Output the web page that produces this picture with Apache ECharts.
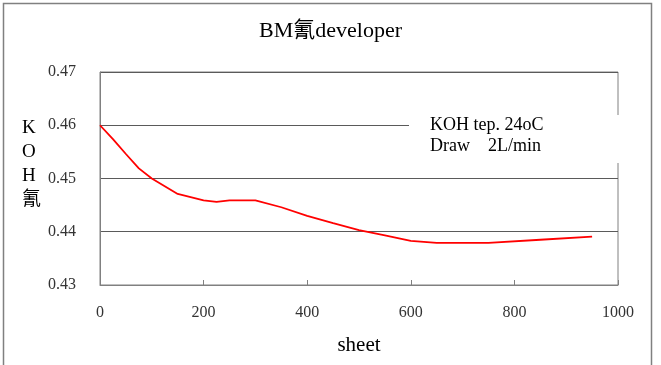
<!DOCTYPE html>
<html>
<head>
<meta charset="utf-8">
<script src="https://cdn.jsdelivr.net/npm/echarts@6/dist/echarts.min.js"></script>
<style>html,body{margin:0;padding:0;background:#fff}#c{width:661px;height:365px}</style>
</head>
<body>
<div id="c"></div>
<script>
const sheets = [0, 25, 50, 75, 100, 150, 200, 225, 250, 300, 350, 400, 450, 500, 550, 600, 650, 750, 850, 950];
const koh = [0.4600, 0.4574, 0.4546, 0.4519, 0.4500, 0.4471, 0.4459, 0.4456, 0.4459, 0.4459, 0.4446, 0.4430, 0.4416, 0.4403, 0.4393, 0.4383, 0.4379, 0.4379, 0.4385, 0.4391];
const titleText = 'BM氰developer';
const xName = 'sheet';
const yName = 'K\nO\nH\n氰';
const noteLines = ['KOH tep. 24oC', 'Draw    2L/min'];

const serif = '"Liberation Serif", "Times New Roman", "Noto Sans CJK TC", serif';
const chart = echarts.init(document.getElementById('c'));
chart.setOption({
  animation: false,
  backgroundColor: '#fff',
  title: {
    text: titleText, left: 'center', top: 15,
    textStyle: { fontFamily: serif, fontSize: 22, fontWeight: 'normal', color: '#000' }
  },
  grid: { left: 100, right: 43, top: 72, bottom: 80, show: true, borderColor: '#808080', borderWidth: 1,
    containLabel: false, outerBoundsMode: 'none' },
  xAxis: {
    type: 'value', min: 0, max: 1000, interval: 200,
    name: xName, nameLocation: 'middle', nameGap: 50,
    nameTextStyle: { fontFamily: serif, fontSize: 21, color: '#000' },
    axisLine: { show: true, lineStyle: { color: '#808080', width: 1 } },
    axisTick: { show: true, inside: true, length: 5, lineStyle: { color: '#808080' } },
    axisLabel: { fontFamily: serif, fontSize: 16, color: '#333', margin: 20,
      formatter: v => String(v) },
    splitLine: { show: false }
  },
  yAxis: {
    type: 'value', min: 0.43, max: 0.47, interval: 0.01,
    axisLine: { show: true, lineStyle: { color: '#808080', width: 1 } },
    axisTick: { show: false },
    axisLabel: { fontFamily: serif, fontSize: 16, color: '#333', margin: 24,
      formatter: v => v.toFixed(2) },
    splitLine: { show: true, lineStyle: { color: '#5a5a5a', width: 1 } }
  },
  series: [{
    type: 'line', data: sheets.map((s, i) => [s, koh[i]]),
    symbol: 'none', smooth: false,
    lineStyle: { color: '#ff0000', width: 1.8 }
  }],
  graphic: [
    { type: 'rect', z: 100, shape: { x: 3.5, y: 3.5, width: 648, height: 370 },
      style: { fill: 'none', stroke: '#808080', lineWidth: 1.5 } },
    { type: 'rect', z: 100, shape: { x: 409, y: 115, width: 215, height: 48 },
      style: { fill: '#fff' } },
    { type: 'text', z: 101, left: 430, top: 115,
      style: { text: noteLines.join('\n'), fontFamily: serif, fontSize: 18, lineHeight: 21, fill: '#000' } },
    { type: 'text', z: 101, left: 22, top: 116,
      style: { text: yName, fontFamily: serif, fontSize: 19, lineHeight: 24, fill: '#000', align: 'center', x: 9 } }
  ]
});
</script>
</body>
</html>
